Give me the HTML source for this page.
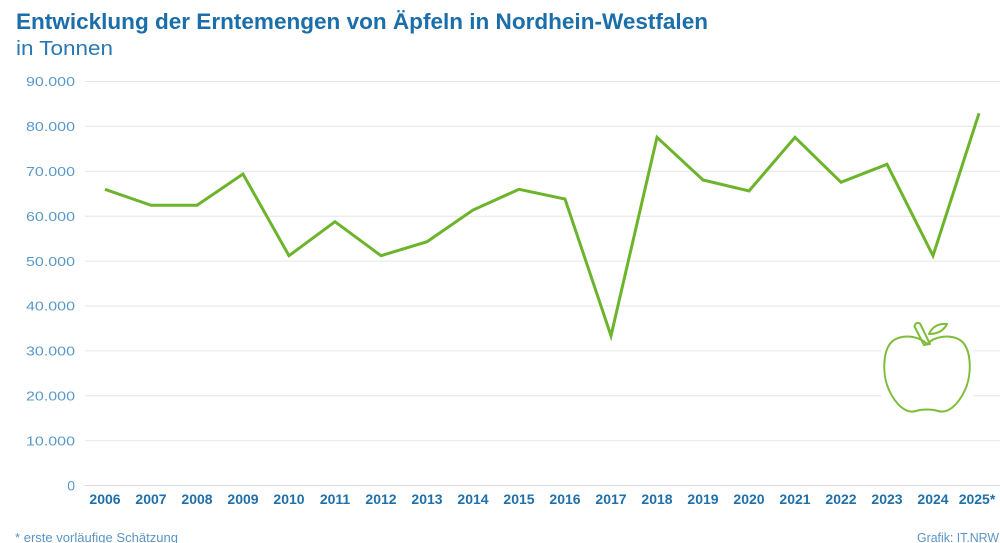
<!DOCTYPE html>
<html>
<head>
<meta charset="utf-8">
<style>
html,body{margin:0;padding:0;background:#fff;}
svg{display:block;}
text{font-family:"Liberation Sans",sans-serif;}
</style>
</head>
<body>
<svg width="1000" height="543" viewBox="0 0 1000 543" xmlns="http://www.w3.org/2000/svg">
<rect width="1000" height="543" fill="#fff"/>
<text x="16" y="29" font-size="22" font-weight="bold" fill="#1b6eaa" textLength="692" lengthAdjust="spacingAndGlyphs">Entwicklung der Erntemengen von Äpfeln in Nordhein-Westfalen</text>
<text x="16" y="55" font-size="20" fill="#2a78b2" textLength="97" lengthAdjust="spacingAndGlyphs">in Tonnen</text>

<g stroke="#e6e6e6" stroke-width="1">
<line x1="85" y1="81.5" x2="1000" y2="81.5"/>
<line x1="85" y1="126.4" x2="1000" y2="126.4"/>
<line x1="85" y1="171.3" x2="1000" y2="171.3"/>
<line x1="85" y1="216.2" x2="1000" y2="216.2"/>
<line x1="85" y1="261.1" x2="1000" y2="261.1"/>
<line x1="85" y1="306" x2="1000" y2="306"/>
<line x1="85" y1="350.9" x2="1000" y2="350.9"/>
<line x1="85" y1="395.8" x2="1000" y2="395.8"/>
<line x1="85" y1="440.7" x2="1000" y2="440.7"/>
</g>
<line x1="85" y1="485.5" x2="1000" y2="485.5" stroke="#dcdcdc" stroke-width="1"/>

<g font-size="13" fill="#5a98c9" text-anchor="end">
<text x="75" y="86" textLength="49" lengthAdjust="spacingAndGlyphs">90.000</text>
<text x="75" y="131" textLength="49" lengthAdjust="spacingAndGlyphs">80.000</text>
<text x="75" y="176" textLength="49" lengthAdjust="spacingAndGlyphs">70.000</text>
<text x="75" y="221" textLength="49" lengthAdjust="spacingAndGlyphs">60.000</text>
<text x="75" y="266" textLength="49" lengthAdjust="spacingAndGlyphs">50.000</text>
<text x="75" y="310.5" textLength="49" lengthAdjust="spacingAndGlyphs">40.000</text>
<text x="75" y="355.5" textLength="49" lengthAdjust="spacingAndGlyphs">30.000</text>
<text x="75" y="400.5" textLength="49" lengthAdjust="spacingAndGlyphs">20.000</text>
<text x="75" y="445.5" textLength="49" lengthAdjust="spacingAndGlyphs">10.000</text>
<text x="75" y="490.5" font-size="14">0</text>
</g>

<g font-size="14" font-weight="bold" fill="#1f6fa9" text-anchor="middle">
<text x="105" y="504">2006</text>
<text x="151" y="504">2007</text>
<text x="197" y="504">2008</text>
<text x="243" y="504">2009</text>
<text x="289" y="504">2010</text>
<text x="335" y="504">2011</text>
<text x="381" y="504">2012</text>
<text x="427" y="504">2013</text>
<text x="473" y="504">2014</text>
<text x="519" y="504">2015</text>
<text x="565" y="504">2016</text>
<text x="611" y="504">2017</text>
<text x="657" y="504">2018</text>
<text x="703" y="504">2019</text>
<text x="749" y="504">2020</text>
<text x="795" y="504">2021</text>
<text x="841" y="504">2022</text>
<text x="887" y="504">2023</text>
<text x="933" y="504">2024</text>
<text x="977" y="504">2025*</text>
</g>

<polyline fill="none" stroke="#6cb42b" stroke-width="3" stroke-linejoin="miter" stroke-miterlimit="10"
points="105,189.3 151,205.3 197,205.3 243,174 289,255.7 335,221.7 381,255.7 427,241.7 473,210 519,189.3 565,199 611,335.7 657,137.3 703,180 749,191 795,137.3 841,182.3 887,164.3 933,255.7 979,113.3"/>

<rect x="881" y="316" width="92" height="100" fill="#fff"/>
<g fill="none" stroke="#7dbd3a" stroke-width="2" stroke-linejoin="round">
<path d="M927,344 C935,336 950,334 960,340 C972,348 972,375 965,390 C958,405 948,414 938,411 C932,409 922,409 916,411 C906,414 896,405 889,390 C882,375 882,348 894,340 C904,334 919,336 927,344 Z"/>
<path d="M924,345 L914.5,326.5 Q915.5,321.5 920,323.5 L930,344 Z"/>
<path d="M929,334 Q934,323 947,324 Q942,334 929,334 Z"/>
</g>

<text x="15" y="542" font-size="12.5" fill="#5a94c4" textLength="163" lengthAdjust="spacingAndGlyphs">* erste vorläufige Schätzung</text>
<text x="999" y="542" font-size="12.5" fill="#5a94c4" text-anchor="end" textLength="82" lengthAdjust="spacingAndGlyphs">Grafik: IT.NRW</text>
</svg>
</body>
</html>
